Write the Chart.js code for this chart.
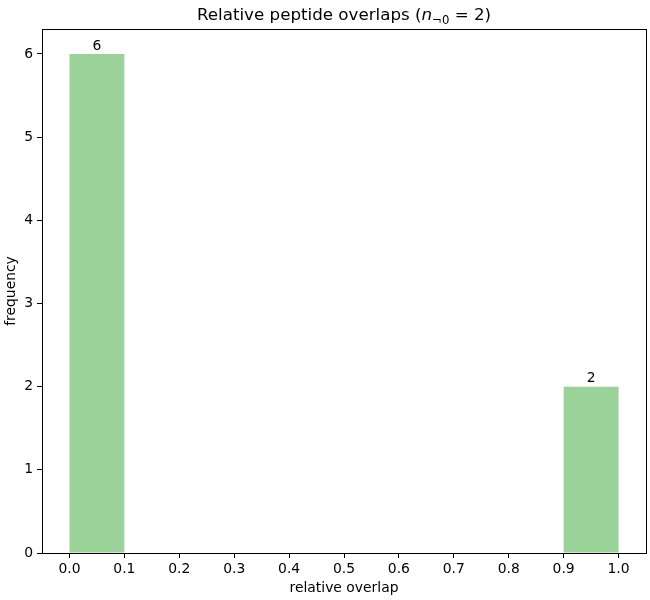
<!DOCTYPE html>
<html>
<head>
<meta charset="utf-8">
<script src="https://cdn.jsdelivr.net/npm/chart.js@4.4.1/dist/chart.umd.min.js"></script>
<style>
    html, body { margin: 0; padding: 0; background: #fff; }
    #wrap { width: 650px; height: 600px; }
</style>
</head>
<body>
<div id="wrap"><canvas id="hist" width="650" height="600"></canvas></div>
<script>
// 直方图数据 (10 个区间, 0.0 - 1.0)
const binCenters = [0.05, 0.15, 0.25, 0.35, 0.45, 0.55, 0.65, 0.75, 0.85, 0.95];
const counts = [6, 0, 0, 0, 0, 0, 0, 0, 0, 2];
const xTicks = [0.0, 0.1, 0.2, 0.3, 0.4, 0.5, 0.6, 0.7, 0.8, 0.9, 1.0];
const yTicks = [0, 1, 2, 3, 4, 5, 6];

const FONT = 'DejaVu Sans';

// 标题 + 外框 + 柱顶数值
const decorPlugin = {
    id: 'decor',
    afterDraw(chart) {
        const ctx = chart.ctx;
        const area = chart.chartArea;
        ctx.save();

        // 四边框
        ctx.strokeStyle = '#000';
        ctx.lineWidth = 1;
        ctx.strokeRect(Math.round(area.left) + 0.5, Math.round(area.top) + 0.5,
            Math.round(area.right - area.left), Math.round(area.bottom - area.top));

        // 柱顶数值
        ctx.fillStyle = '#000';
        ctx.font = `13.9px "${FONT}"`;
        ctx.textAlign = 'center';
        ctx.textBaseline = 'bottom';
        const meta = chart.getDatasetMeta(0);
        meta.data.forEach((bar, i) => {
            if (counts[i] > 0) {
                ctx.fillText(String(counts[i]), bar.x, bar.y - 1);
            }
        });

        // 标题: Relative peptide overlaps (n_{¬0} = 2)
        const parts = [
            { text: 'Relative peptide overlaps (', font: `16.7px "${FONT}"`, dy: 0 },
            { text: 'n', font: `italic 16.7px "${FONT}"`, dy: 0 },
            { text: '¬0', font: `11.7px "${FONT}"`, dy: 3.5 },
            { text: ' = 2)', font: `16.7px "${FONT}"`, dy: 0 }
        ];
        let total = 0;
        parts.forEach(p => {
            ctx.font = p.font;
            p.w = ctx.measureText(p.text).width;
            total += p.w;
        });
        let x = (area.left + area.right) / 2 - total / 2;
        const baseY = 20;
        ctx.textAlign = 'left';
        ctx.textBaseline = 'alphabetic';
        parts.forEach(p => {
            ctx.font = p.font;
            ctx.fillText(p.text, x, baseY + p.dy);
            x += p.w;
        });
        ctx.restore();
    }
};

Chart.defaults.font.family = FONT;
Chart.defaults.font.size = 13.9;
Chart.defaults.color = '#000';

new Chart(document.getElementById('hist').getContext('2d'), {
    type: 'bar',
    data: {
        datasets: [{
            label: 'frequency',
            data: binCenters.map((c, i) => ({ x: c, y: counts[i] })),
            backgroundColor: 'rgba(44, 160, 44, 0.48)',
            borderWidth: 0,
            inflateAmount: 0,
            barPercentage: 1.0,
            categoryPercentage: 1.0
        }]
    },
    options: {
        responsive: false,
        animation: false,
        devicePixelRatio: 1,
        layout: { padding: { left: 0, right: 4, top: 29, bottom: 0 } },
        plugins: {
            legend: { display: false },
            tooltip: { enabled: false }
        },
        scales: {
            x: {
                type: 'linear',
                min: -0.05,
                max: 1.05,
                offset: false,
                afterBuildTicks: (scale) => {
                    scale.ticks = xTicks.map(v => ({ value: v }));
                },
                afterFit: (scale) => { scale.height = 47; },
                ticks: {
                    padding: 3,
                    maxRotation: 0,
                    autoSkip: false,
                    callback: (v) => Number(v).toFixed(1)
                },
                grid: {
                    offset: false,
                    drawOnChartArea: false,
                    drawTicks: true,
                    tickLength: 5,
                    color: '#000'
                },
                border: { display: true, color: '#000' },
                title: {
                    display: true,
                    text: 'relative overlap',
                    padding: { top: 4, bottom: 3 }
                }
            },
            y: {
                min: 0,
                max: 6.3,
                afterBuildTicks: (scale) => {
                    scale.ticks = yTicks.map(v => ({ value: v }));
                },
                afterFit: (scale) => { scale.width = 42; },
                ticks: { padding: 4 },
                grid: {
                    drawOnChartArea: false,
                    drawTicks: true,
                    tickLength: 5,
                    color: '#000'
                },
                border: { display: true, color: '#000' },
                title: {
                    display: true,
                    text: 'frequency',
                    padding: { top: 3, bottom: 4 }
                }
            }
        }
    },
    plugins: [decorPlugin]
});
</script>
</body>
</html>
